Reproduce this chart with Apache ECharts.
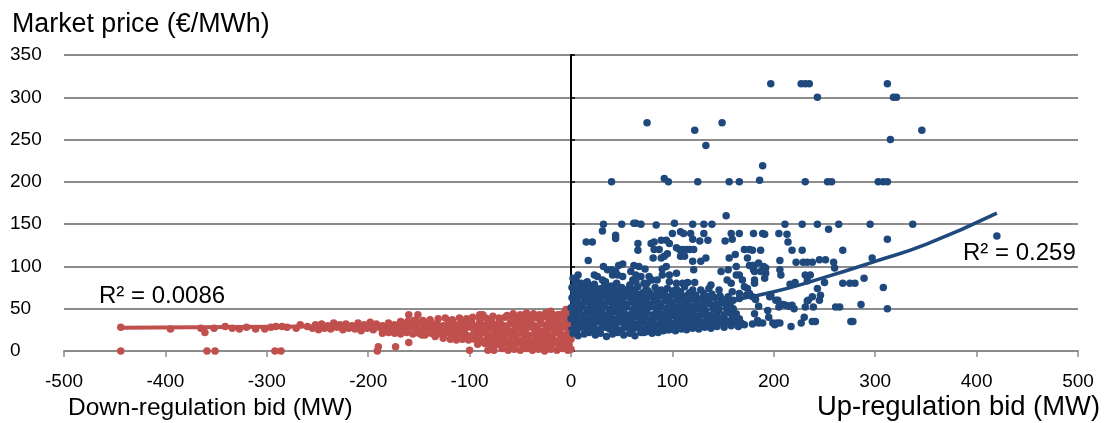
<!DOCTYPE html>
<html>
<head>
<meta charset="utf-8">
<script src="https://cdn.jsdelivr.net/npm/echarts@6/dist/echarts.min.js"></script>
<style>
html, body { margin: 0; padding: 0; background: #fff; }
#chart { width: 1106px; height: 423px; }
</style>
</head>
<body>
<div id="chart"></div>
<script>
// down-regulation bids (MW < 0) vs price
var redSparse = [[-444,28],[-395,26],[-365,27],[-361,22],[-352,27],[-341,29],[-334,27],[-327,26],[-320,28],[-311,26],[-302,26],[-296,28],[-291,29],[-285,29],[-280,28],[-271,27],[-267,31],[-260,29],
  [-444,0],[-359,0],[-351,0],[-292,0],[-286,0],
  [-191,0],[-190,5],[-173,5],[-160,10],[-100,1],[-82,1],[-76,1],
  [-160,43],[-151,43],[-90,43],[-87,43],[-20,47],[-5,49]];
var redBand26 = [[-255,27],[-249,25],[-243,27],[-237,26],[-231,28],[-225,25],[-219,27],[-213,26],[-207,24],[-201,27],[-195,25],[-189,28],[-183,26],[-177,24],[-171,27],[-165,25],[-159,28],[-153,26],[-147,24],[-141,27],[-135,25],[-129,28],[-123,26],[-117,24],[-111,27],[-105,25],[-99,28],[-93,26],[-87,24],[-81,27],[-75,25],[-69,28],[-63,26],[-57,24],[-51,27],[-45,25],[-39,28],[-33,26],[-27,24],[-21,27],[-15,25],[-9,28],[-3,26]];
var redBand32 = [[-252,31],[-246,32],[-240,30],[-234,33],[-228,31],[-222,32],[-216,30],[-210,33],[-204,31],[-198,34],[-192,32],[-186,30],[-180,33],[-174,31],[-168,34],[-162,32],[-156,30],[-150,33],[-144,31],[-138,34],[-132,32],[-126,30],[-120,33],[-114,31],[-108,34],[-102,32],[-96,30],[-90,33],[-84,31],[-78,34],[-72,32],[-66,30],[-60,33],[-54,31],[-48,34],[-42,32],[-36,30],[-30,33],[-24,31],[-18,34],[-12,32],[-6,30],[-1,33]];
var redBand38 = [[-168,35],[-161,35],[-153,36],[-146,36],[-139,37],[-131,38],[-124,39],[-117,37],[-110,39],[-103,38],[-97,40],[-90,38],[-84,39],[-77,41],[-71,39],[-65,40],[-58,38],[-52,40],[-46,39],[-40,41],[-34,39],[-28,40],[-22,38],[-16,41],[-10,39],[-4,40]];
var redBand44 = [[-57,44],[-50,43],[-44,45],[-37,44],[-31,43],[-25,45],[-19,44],[-13,43],[-7,45],[-2,44]];
var redBand20 = [[-186,21],[-180,22],[-174,21],[-168,20],[-162,22],[-156,20],[-150,21],[-144,19],[-138,21],[-132,20],[-126,19],[-120,21],[-114,19],[-108,20],[-102,18],[-96,20],[-90,19],[-84,21],[-78,19],[-72,20],[-66,18],[-60,20],[-54,19],[-48,21],[-42,19],[-36,20],[-30,18],[-24,20],[-18,19],[-12,21],[-6,19],[-1,20]];
var redBand14 = [[-126,15],[-119,14],[-113,13],[-107,14],[-101,13],[-95,14],[-89,12],[-83,14],[-77,13],[-71,14],[-65,12],[-59,14],[-53,13],[-47,14],[-41,12],[-35,14],[-29,13],[-23,14],[-17,12],[-11,14],[-5,13],[0,14]];
var redBand8 = [[-92,8],[-85,9],[-79,7],[-73,8],[-67,9],[-61,7],[-55,8],[-49,9],[-43,7],[-37,8],[-31,9],[-25,7],[-19,8],[-13,9],[-7,7],[-2,8]];
var redBand2 = [[-68,3],[-62,1],[-56,2],[-50,1],[-44,3],[-38,1],[-32,2],[-26,0],[-20,2],[-14,1],[-8,3],[-3,1],[0,2]];
var redFill = [[-178,29],[-166,23],[-155,36],[-143,28],[-134,17],[-121,36],[-112,23],[-98,35],[-93,17],[-86,28],[-80,36],[-74,11],[-68,23],[-63,42],[-57,16],[-52,28],[-46,5],[-40,35],[-35,23],[-29,5],[-27,42],[-23,28],[-18,11],[-15,37],[-11,24],[-9,4],[-5,34],[-3,16],[-2,47],
  [-218,29],[-204,28],[-185,25],[-147,19],[-129,23],[-118,29],[-105,17],[-70,34],[-54,36],[-47,10],[-33,17],[-21,14],[-12,43]];

// up-regulation bids (MW > 0)
var blueHigh = [[40,200],[75,270],[92,204],[96,200],[122,261],[125,200],[133,243],[149,270],[156,200],[166,200],[186,202],[189,219],[197,316],[227,316],[231,316],[235,316],[243,300],[231,200],[253,200],[257,200],[312,316],[318,300],[321,300],[315,250],[346,261],[303,200],[308,200],[312,200]];
var blueUpper = [[32,150],[50,150],[62,151],[64,151],[69,150],[84,149],[102,151],[120,150],[131,150],[139,150],[153,160],[211,150],[228,150],[243,150],[264,150],[295,150],[337,150],
  [31,142],[44,137],[44,133],[15,129],[21,129],[66,127],[79,127],[82,129],[89,131],[94,131],[97,127],[100,139],[108,141],[111,139],[118,139],[131,139],[120,132],[127,130],[135,131],[152,130],[159,132],[158,139],[166,139],[180,139],[189,139],[191,138],[205,139],[213,138],[214,129],[254,144],[312,132],[420,136]];
var blueMid = [[66,119],[82,120],[87,120],[104,122],[107,120],[110,120],[114,120],[117,120],[121,120],[171,120],[176,120],[179,119],[187,119],[218,119],[228,119],[268,119],
  [17,107],[81,110],[89,110],[92,112],[95,115],[108,112],[112,112],[120,106],[128,106],[133,110],[162,114],[156,110],[174,110],
  [7,90],[5,81],[23,90],[26,88],[31,84],[34,82],[32,100],[36,96],[40,96],[47,101],[51,103],[44,94],[41,90],[46,90],[51,88],[59,94],[64,90],[69,88],[62,101],[67,100],[73,97],[77,88],[85,84],[80,84],[90,90],[94,100],[90,97],[97,90],[104,92],[115,81],[122,81],[121,96],[138,78],[148,94],[155,96],[163,100],[166,90],[179,101],[181,94],[169,84],[181,84],[61,84],[64,82],[72,80],[75,80],[97,82],[104,80],[110,80],[136,74],[146,72],[159,70],[166,68],[174,74],[154,84],[158,80],[171,76],[163,90],
  [176,101],[180,101],[185,104],[190,100],[192,98],[180,96],[187,94],[192,92],[191,86],[206,96],[207,90],[231,90],[236,90],[181,80],[216,79],[221,81],[233,83],[250,81],[243,74],[268,80],[275,80],[280,80],[308,75],[206,107],[222,105],[229,105],[233,105],[238,105],[245,108],[251,108],[259,105],[260,98],[297,110],[289,86]];
var blueLow = [[166,62],[173,66],[176,68],[179,64],[182,61],[185,53],[194,48],[179,32],[171,31],[185,33],[189,33],[195,40],[199,33],[203,33],[206,33],[201,31],[184,36],[181,44],[197,66],[202,60],[196,64],[204,60],[209,55],[212,54],[218,54],[220,50],[205,52],[215,53],[217,29],[227,33],[230,40],[231,52],[234,60],[238,64],[239,52],[245,60],[246,66],[233,59],[238,35],[241,35],[261,52],[265,52],[286,55],[312,50],[276,35],[278,35]];
var blueCore = [
  [2,21],[7,18],[13,20],[18,22],[24,19],[29,21],[35,17],[41,20],[46,22],[52,19],[58,21],[63,18],[69,22],[75,23],[80,21],[86,22],[91,24],[97,25],[103,24],[109,26],[114,25],[120,27],[126,26],[132,28],[138,27],[144,29],[151,28],[158,30],[165,29],
  [1,27],[6,25],[11,28],[16,26],[22,27],[27,25],[33,28],[38,26],[44,27],[50,25],[55,28],[61,26],[67,27],[72,26],[78,28],[84,27],[90,29],[95,28],[101,30],[107,29],[113,31],[119,30],[125,32],[131,31],[137,33],[143,32],[149,34],[156,33],[162,35],[168,33],
  [3,32],[9,31],[14,33],[20,32],[25,34],[31,31],[36,33],[42,32],[47,34],[53,31],[59,33],[64,32],[70,34],[76,31],[81,33],[87,32],[93,34],[98,33],[104,35],[110,33],[116,34],[122,36],[128,35],[134,37],[140,36],[146,38],[152,37],[159,39],[166,38],
  [0,38],[6,39],[12,37],[17,40],[23,38],[28,39],[34,37],[39,40],[45,38],[51,39],[56,37],[62,40],[68,38],[73,39],[79,37],[85,40],[90,38],[96,39],[102,41],[108,39],[114,40],[120,42],[126,41],[132,43],[138,42],[144,44],[151,43],[157,45],[163,44],
  [2,44],[8,45],[13,43],[19,46],[24,44],[30,45],[35,43],[41,46],[47,44],[52,45],[58,43],[64,46],[69,44],[75,45],[81,43],[86,46],[92,44],[98,46],[104,47],[110,45],[116,48],[121,46],[127,49],[133,48],[140,50],[146,49],[153,51],[160,50],
  [0,51],[5,50],[11,52],[16,49],[22,51],[27,50],[33,52],[38,49],[44,51],[50,50],[55,52],[61,49],[67,51],[72,50],[78,52],[84,50],[89,52],[95,51],[101,53],[107,52],[113,54],[119,53],[125,55],[131,54],[137,56],[143,55],[150,57],[157,56],
  [3,57],[9,56],[14,58],[20,55],[25,57],[31,56],[36,58],[42,55],[48,57],[53,56],[59,58],[65,55],[70,57],[76,56],[82,58],[87,57],[93,59],[99,58],[105,60],[111,59],[117,61],[123,60],[129,62],[136,61],[142,63],[148,62],[155,64],
  [1,63],[6,62],[12,64],[17,61],[23,63],[28,62],[34,64],[40,61],[45,63],[51,62],[57,64],[62,61],[68,63],[74,62],[79,64],[85,63],[91,65],[97,64],[103,66],[110,65],[116,67],[123,66],[131,68],[139,67],[147,65],
  [3,69],[9,68],[14,70],[20,67],[25,69],[31,68],[37,70],[42,67],[48,69],[54,68],[60,70],[66,67],[71,69],[78,68],[85,70],[92,69],[100,71],[108,70],[117,69],[128,72],
  [1,75],[7,74],[12,76],[18,73],[24,75],[30,74],[36,76],[43,73],[50,75],[57,74],[66,76],[74,73],[83,75],[95,74],[112,76],
  [4,81],[10,80],[16,82],[23,79],[33,81],[45,80],[58,78],[2,86],[5,84]];
var blueFill = [[5,23],[16,30],[27,22],[39,29],[49,23],[61,30],[72,22],[83,30],[95,25],[106,32],[117,28],[129,33],[141,31],[154,35],
  [4,35],[15,41],[26,36],[37,42],[49,36],[60,42],[71,36],[82,42],[94,37],[105,43],[118,38],[130,45],[141,39],[155,47],
  [8,48],[19,53],[30,47],[41,53],[52,48],[63,53],[74,47],[86,54],[97,49],[108,56],[120,50],[133,58],[145,52],[160,60],
  [4,60],[15,66],[27,59],[38,65],[50,60],[61,66],[73,59],[84,66],[95,61],[107,68],[120,63],[135,64],[152,60],
  [6,72],[17,78],[28,71],[40,77],[52,72],[63,73],[76,71],[89,72],[104,73],[120,72]];

// trend lines
var redTrend = [[-444,27.5],[0,31]];
var blueTrend = [[1,33],[50,39],[100,47],[150,58],[200,70],[250,87],[300,106],[350,126],[420,163]];

var font = '"Liberation Sans", Arial, sans-serif';
var redPoints = [].concat(redSparse, redBand26, redBand32, redBand38, redBand44, redBand20, redBand14, redBand8, redBand2, redFill);
var bluePoints = [].concat(blueCore, blueFill, blueLow, blueMid, blueUpper, blueHigh);

var chart = echarts.init(document.getElementById('chart'));
var option = {
  animation: false,
  grid: { left: 64, right: 28, top: 55, bottom: 72 },
  xAxis: {
    type: 'value', min: -500, max: 500, interval: 100,
    axisLine: { onZero: false, lineStyle: { color: '#8c8c8c', width: 2 } },
    axisTick: { show: true, length: 6, lineStyle: { color: '#8c8c8c', width: 1.5 } },
    axisLabel: { color: '#000', fontSize: 19, fontFamily: font, margin: 21 },
    splitLine: { show: false }
  },
  yAxis: [{
    type: 'value', min: 0, max: 350, interval: 50,
    axisLine: { show: false, onZero: false },
    axisTick: { show: false },
    axisLabel: { color: '#000', fontSize: 19, fontFamily: font, align: 'left', margin: 54 },
    splitLine: { lineStyle: { color: '#8c8c8c', width: 2 } }
  }, {
    type: 'value', min: 0, max: 350, interval: 50, position: 'left',
    axisLine: { show: true, onZero: true, lineStyle: { color: '#000', width: 2 } },
    axisTick: { show: true, inside: true, length: 4, lineStyle: { color: '#000', width: 1.5 } },
    axisLabel: { show: false },
    splitLine: { show: false }
  }],
  graphic: [
    { type: 'text', left: 12, top: 11, style: { text: 'Market price (€/MWh)', font: '26.8px ' + font, fill: '#000' } },
    { type: 'text', left: 68, top: 396, style: { text: 'Down-regulation bid (MW)', font: '24.5px ' + font, fill: '#000' } },
    { type: 'text', right: 6, top: 394, style: { text: 'Up-regulation bid (MW)', font: '27.4px ' + font, fill: '#000' } },
    { type: 'text', left: 99, top: 284, style: { text: 'R² = 0.0086', font: '24px ' + font, fill: '#000' } },
    { type: 'text', left: 963, top: 241, style: { text: 'R² = 0.259', font: '24px ' + font, fill: '#000' } }
  ],
  series: [
    { type: 'scatter', data: redPoints, symbolSize: 7.5, itemStyle: { color: '#C0504D', opacity: 1 }, silent: true },
    { type: 'scatter', data: bluePoints, symbolSize: 7.5, itemStyle: { color: '#1F497D', opacity: 1 }, silent: true },
    { type: 'line', data: redTrend, showSymbol: false, lineStyle: { color: '#C0504D', width: 4 }, silent: true },
    { type: 'line', data: blueTrend, smooth: true, showSymbol: false, lineStyle: { color: '#1F497D', width: 3.5 }, silent: true }
  ]
};
chart.setOption(option);
</script>
</body>
</html>
